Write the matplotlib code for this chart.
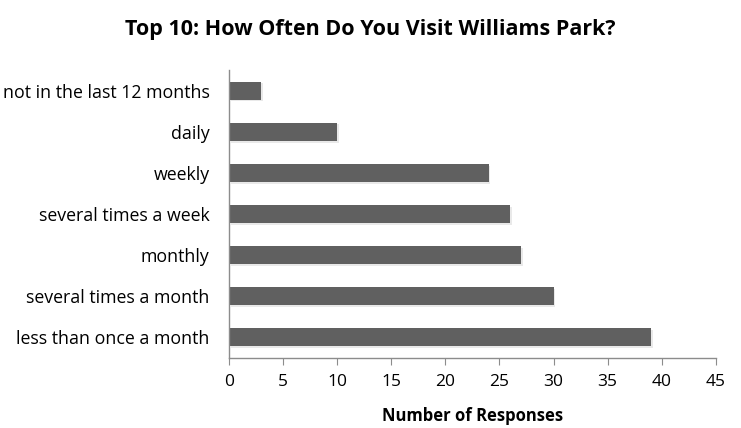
import matplotlib.pyplot as plt
import matplotlib.patheffects as pe

# survey answers, listed bottom to top
categories = [
    "less than once a month",
    "several times a month",
    "monthly",
    "several times a week",
    "weekly",
    "daily",
    "not in the last 12 months",
]
responses = [39, 30, 27, 26, 24, 10, 3]
x_ticks = [0, 5, 10, 15, 20, 25, 30, 35, 40, 45]

plt.rcParams['font.family'] = ['Open Sans', 'DejaVu Sans']

fig = plt.figure(figsize=(7.41, 4.28), dpi=100)
ax = fig.add_axes([0.309, 0.164, 0.657, 0.672])

bars = ax.barh(range(len(categories)), responses, height=0.44, color="#606060")
for b in bars:
    b.set_path_effects([pe.SimplePatchShadow(offset=(1.2, -1.2), shadow_rgbFace="#c8c8c8", alpha=0.4),
                        pe.Normal()])

ax.set_yticks(range(len(categories)))
ax.set_yticklabels(categories, fontsize=12.8)
ax.set_ylim(-0.5, len(categories) - 0.5)
ax.set_xlim(0, 45)
ax.set_xticks(x_ticks)
ax.tick_params(axis='x', labelsize=12.5, length=5, color="#8c8c8c", pad=7)
ax.tick_params(axis='y', length=0, pad=14)

for side in ["top", "right"]:
    ax.spines[side].set_visible(False)
for side in ["left", "bottom"]:
    ax.spines[side].set_color("#8c8c8c")
    ax.spines[side].set_linewidth(1.0)

ax.set_xlabel("Number of Responses", fontsize=12, fontweight="bold", labelpad=12)
fig.text(0.5, 0.93, "Top 10: How Often Do You Visit Williams Park?", ha="center", va="center",
         fontsize=15.5, fontweight="bold")

fig.savefig("out.png", dpi=100)
